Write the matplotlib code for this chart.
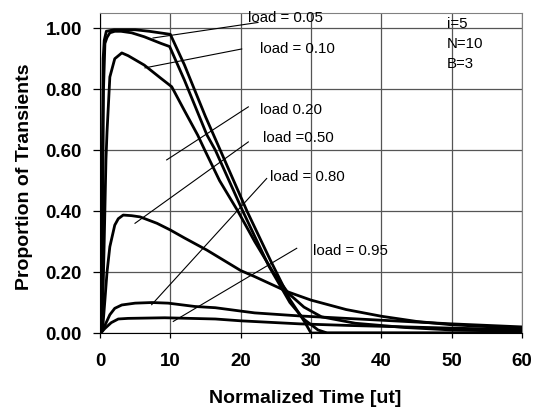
import matplotlib
matplotlib.use("Agg")
import matplotlib.pyplot as plt
from matplotlib.ticker import FormatStrFormatter, MultipleLocator

plt.rcParams["font.family"] = ["Liberation Sans", "DejaVu Sans"]

# curves: normalized time -> proportion of transients
t_005 = [0, 0.3, 0.45, 0.6, 0.9, 2, 5, 7, 10, 12, 15, 17.1, 20.9, 24.2, 27, 29, 30, 60]
p_005 = [0, 0.5, 0.9, 0.96, 0.99, 0.995, 0.995, 0.99, 0.98, 0.88, 0.71, 0.60, 0.40, 0.24, 0.11, 0.04, 0, 0]

t_010 = [0, 0.35, 0.5, 0.7, 1.0, 1.4, 2.1, 3, 4.5, 6.3, 8.7, 9.9, 12, 15.2, 16.4, 20.3, 24, 27, 29, 31, 32.3, 60]
p_010 = [0, 0.3, 0.8, 0.95, 0.97, 0.985, 0.99, 0.99, 0.985, 0.972, 0.95, 0.94, 0.83, 0.65, 0.6, 0.40,
         0.22, 0.10, 0.045, 0.01, 0, 0]

t_020 = [0, 0.4, 0.6, 0.85, 1.0, 1.4, 2.1, 3.1, 4.0, 6.3, 8.7, 10.2, 12, 13.9, 14.9, 17, 19.6, 22, 24.6,
         26.8, 29, 31.5, 36.3, 43.4, 50, 60]
p_020 = [0, 0.1, 0.3, 0.57, 0.66, 0.84, 0.9, 0.919, 0.91, 0.879, 0.835, 0.808, 0.73, 0.649, 0.6, 0.5,
         0.4, 0.3, 0.2, 0.13, 0.085, 0.053, 0.032, 0.018, 0.01, 0.005]

t_050 = [0, 0.4, 0.7, 1.0, 1.4, 2.1, 2.6, 3.3, 4.5, 5.7, 8.1, 10, 12, 15.2, 20, 22, 26.7, 30, 35, 40,
         45, 50, 55, 60]
p_050 = [0, 0.02, 0.108, 0.2, 0.283, 0.354, 0.375, 0.387, 0.385, 0.381, 0.36, 0.338, 0.312, 0.272,
         0.205, 0.185, 0.135, 0.108, 0.077, 0.055, 0.038, 0.027, 0.021, 0.017]

t_080 = [0, 0.3, 0.8, 1.4, 2.1, 3.1, 5, 7.4, 9.7, 13.5, 16.4, 20, 22, 28.4, 35, 40, 50, 60]
p_080 = [0, 0.005, 0.03, 0.06, 0.081, 0.092, 0.098, 0.1, 0.098, 0.087, 0.083, 0.072, 0.066, 0.056,
         0.048, 0.042, 0.03, 0.02]

t_095 = [0, 0.3, 0.7, 1.6, 2.6, 4, 9.2, 16.4, 20, 28.4, 35, 40, 50, 60]
p_095 = [0, 0.005, 0.015, 0.034, 0.046, 0.048, 0.05, 0.046, 0.04, 0.03, 0.025, 0.022, 0.016, 0.011]

curves = [(t_005, p_005), (t_010, p_010), (t_020, p_020),
          (t_050, p_050), (t_080, p_080), (t_095, p_095)]

# label text, leader start, leader end, text anchor (data coords)
labels = [
    ("load = 0.05", (7.54, 0.968), (22.47, 1.019), (21.0, 1.033)),
    ("load = 0.10", (6.40, 0.870), (20.15, 0.932), (22.75, 0.931)),
    ("load 0.20", (9.48, 0.568), (21.09, 0.742), (22.75, 0.731)),
    ("load =0.50", (4.98, 0.360), (21.09, 0.627), (23.2, 0.639)),
    ("load = 0.80", (7.35, 0.093), (23.70, 0.507), (24.2, 0.512)),
    ("load = 0.95", (10.42, 0.038), (27.97, 0.278), (30.3, 0.269)),
]
params = ["i=5", "N=10", "B=3"]

fig = plt.figure(figsize=(5.35, 4.09), dpi=100)
ax = fig.add_axes([0.1869, 0.1858, 0.7888, 0.7824])

for t, p in curves:
    ax.plot(t, p, color="black", lw=2.0, zorder=3, solid_joinstyle="round")

for text, start, end, pos in labels:
    ax.plot([start[0], end[0]], [start[1], end[1]], color="black", lw=0.8, zorder=4)
    ax.text(pos[0], pos[1], text, fontsize=10.8, ha="left", va="center", zorder=5)

for i, s in enumerate(params):
    ax.text(49.3, 1.013 - 0.0645 * i, s, fontsize=10.8, ha="left", va="center")

ax.set_xlim(0, 60)
ax.set_ylim(0, 1.05)
ax.xaxis.set_major_locator(MultipleLocator(10))
ax.yaxis.set_major_locator(MultipleLocator(0.2))
ax.yaxis.set_major_formatter(FormatStrFormatter("%.2f"))
ax.grid(True, color="#555555", lw=0.9, zorder=1)
ax.set_axisbelow(True)

for side in ("top", "right"):
    ax.spines[side].set_color("#808080")
for side in ("left", "bottom"):
    ax.spines[side].set_color("black")

ax.tick_params(axis="y", direction="out", length=5, width=0.9, pad=8, labelsize=13.5)
ax.tick_params(axis="x", direction="out", length=3.6, width=0.9, pad=11, labelsize=13.5)
for lab in ax.get_xticklabels() + ax.get_yticklabels():
    lab.set_fontweight("bold")

ax.set_xlabel("Normalized Time [ut]", fontsize=14, fontweight="bold")
ax.set_ylabel("Proportion of Transients", fontsize=14, fontweight="bold")
ax.xaxis.set_label_coords(0.486, -0.178)
ax.yaxis.set_label_coords(-0.159, 0.489)

fig.savefig("out.png", dpi=100)
